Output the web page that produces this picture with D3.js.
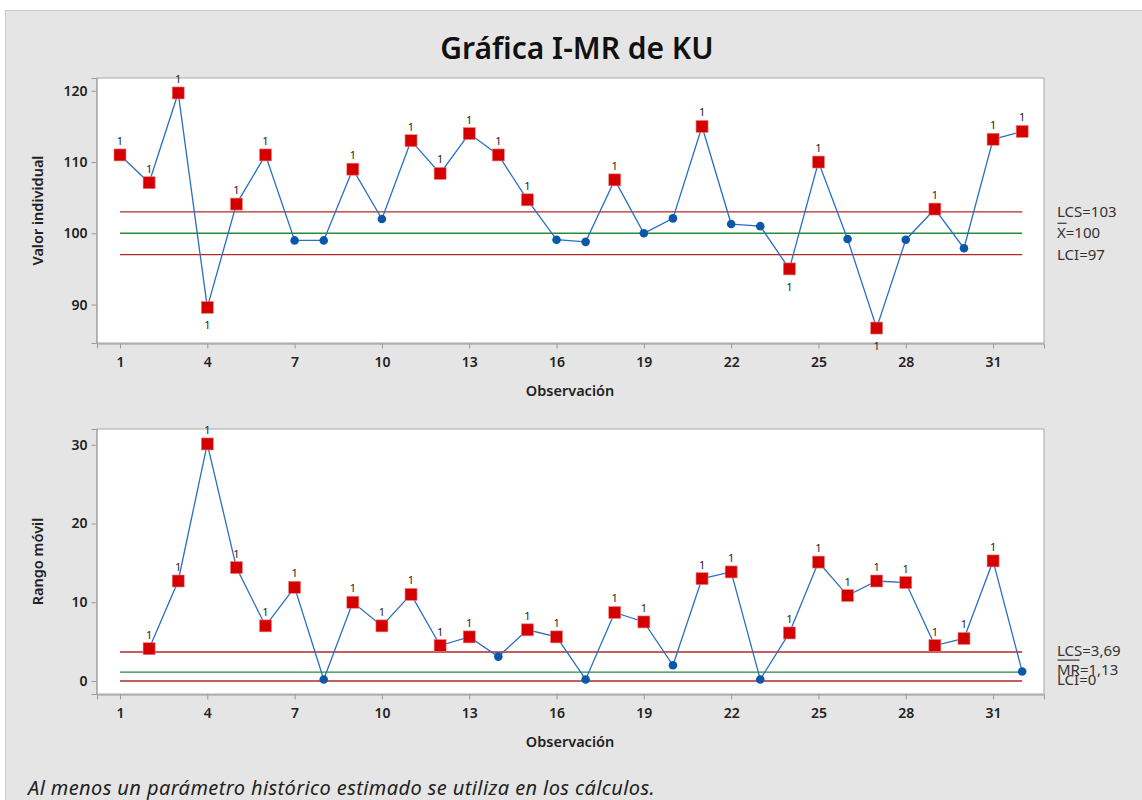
<!DOCTYPE html>
<html>
<head>
<meta charset="utf-8" />
<title>Gráfica I-MR de KU</title>
<script src="https://d3js.org/d3.v7.min.js"></script>
<style>
  body { margin: 0; background: #fff; }
  text { font-family: "Noto Sans", "Open Sans", sans-serif; }
</style>
</head>
<body>
<script>
// observations
var obs = d3.range(1, 33);

// individual values
var individual = [111, 107.1, 119.7, 89.6, 104.1, 111, 99, 99, 109, 102,
                  113, 108.4, 114, 111, 104.7, 99.1, 98.8, 107.5, 100, 102.1,
                  115, 101.3, 101, 95, 110, 99.2, 86.7, 99.1, 103.4, 97.9,
                  113.2, 114.3];

// moving ranges (first observation has none)
var movingRange = [null, 4.1, 12.7, 30.1, 14.4, 7.0, 11.9, 0.2, 10, 7.0,
                   11.0, 4.5, 5.6, 3.1, 6.5, 5.6, 0.2, 8.7, 7.5, 2.0,
                   13.0, 13.85, 0.2, 6.1, 15.1, 10.85, 12.7, 12.5, 4.5, 5.4,
                   15.25, 1.2];

var iLimits = { lcs: 103, center: 100, lci: 97 };
var mrLimits = { lcs: 3.69, center: 1.13, lci: 0 };

var xTicks = [1, 4, 7, 10, 13, 16, 19, 22, 25, 28, 31];
var iTicks = [90, 100, 110, 120];
var mrTicks = [0, 10, 20, 30];

var W = 1142, H = 800;
var svg = d3.select("body").append("svg")
    .attr("width", W)
    .attr("height", H);

// gray panel
svg.append("rect")
    .attr("x", 5.5).attr("y", 10.5)
    .attr("width", W).attr("height", H)
    .attr("fill", "#e5e5e5")
    .attr("stroke", "#c9c9c9");

svg.append("text")
    .attr("x", 577).attr("y", 59)
    .attr("text-anchor", "middle")
    .attr("font-size", 30).attr("font-weight", 600)
    .attr("fill", "#111")
    .text("Gráfica I-MR de KU");

var x = d3.scaleLinear().domain([0.21, 32.75]).range([97, 1044]);

function drawPanel(opts) {
  var y = d3.scaleLinear().domain(opts.domain).range([opts.bottom, opts.top]);
  var g = svg.append("g");

  g.append("rect")
      .attr("x", 97).attr("y", opts.top)
      .attr("width", 1044 - 97).attr("height", opts.bottom - opts.top)
      .attr("fill", "#fff")
      .attr("stroke", "#a8a8a8");

  // axes
  var yAxis = g.append("g")
      .attr("transform", "translate(96.5,0)")
      .call(d3.axisLeft(y).tickValues(opts.ticks).tickSize(5).tickPadding(4));
  var xAxis = g.append("g")
      .attr("transform", "translate(0," + (opts.bottom + 0.5) + ")")
      .call(d3.axisBottom(x).tickValues(xTicks).tickSize(5).tickPadding(9));
  [yAxis, xAxis].forEach(function(a) {
    a.select(".domain").attr("stroke", "#999");
    a.selectAll(".tick line").attr("stroke", "#999");
    a.selectAll(".tick text")
        .attr("font-family", "Noto Sans")
        .attr("font-size", 14)
        .attr("font-weight", 600)
        .attr("fill", "#222");
  });

  g.append("text")
      .attr("x", 570).attr("y", opts.bottom + 53)
      .attr("text-anchor", "middle")
      .attr("font-size", 14.5).attr("font-weight", 600).attr("fill", "#222")
      .text("Observación");

  g.append("text")
      .attr("transform", "translate(43," + ((opts.top + opts.bottom) / 2) + ") rotate(-90)")
      .attr("text-anchor", "middle")
      .attr("font-size", 14.5).attr("font-weight", 600).attr("fill", "#222")
      .text(opts.ylabel);

  // control lines
  var lim = opts.limits;
  [["lcs", "#b22a2a"], ["center", "#2a8a3a"], ["lci", "#b22a2a"]].forEach(function(l) {
    g.append("line")
        .attr("x1", x(1)).attr("x2", x(32))
        .attr("y1", y(lim[l[0]])).attr("y2", y(lim[l[0]]))
        .attr("stroke", l[1]).attr("stroke-width", 1.4);
  });

  // right labels
  opts.labels.forEach(function(lb) {
    g.append("text")
        .attr("x", 1057).attr("y", y(lim[lb.key]) + lb.dy)
        .attr("dominant-baseline", "central")
        .attr("font-size", 15).attr("fill", "#333")
        .text(lb.text);
    if (lb.bar) {
      g.append("line")
          .attr("x1", 1057.5).attr("x2", 1057.5 + lb.bar)
          .attr("y1", y(lim[lb.key]) + lb.dy - 9).attr("y2", y(lim[lb.key]) + lb.dy - 9)
          .attr("stroke", "#333").attr("stroke-width", 1.2);
    }
  });

  var pts = obs.map(function(o, i) { return { o: o, v: opts.values[i] }; })
      .filter(function(d) { return d.v !== null; });

  var line = d3.line()
      .x(function(d) { return x(d.o); })
      .y(function(d) { return y(d.v); });

  g.append("path")
      .datum(pts)
      .attr("d", line)
      .attr("fill", "none")
      .attr("stroke", "#2a6fc0")
      .attr("stroke-width", 1.3);

  var out = function(d) { return d.v > lim.lcs || d.v < lim.lci; };

  g.selectAll("circle.ok")
      .data(pts.filter(function(d) { return !out(d); }))
      .enter().append("circle")
      .attr("cx", function(d) { return x(d.o); })
      .attr("cy", function(d) { return y(d.v); })
      .attr("r", 4.3)
      .attr("fill", "#0b58a8");

  var bad = pts.filter(out);
  g.selectAll("rect.bad")
      .data(bad)
      .enter().append("rect")
      .attr("x", function(d) { return x(d.o) - 6; })
      .attr("y", function(d) { return y(d.v) - 6; })
      .attr("width", 12).attr("height", 12)
      .attr("fill", "#d40000")
      .attr("stroke", "#f08080").attr("stroke-width", 0.6);

  g.selectAll("text.flag")
      .data(bad)
      .enter().append("text")
      .attr("x", function(d) { return x(d.o); })
      .attr("y", function(d) { return d.v < lim.center ? y(d.v) + 22 : y(d.v) - 10; })
      .attr("text-anchor", "middle")
      .attr("font-family", "Liberation Sans")
      .attr("font-size", 11).attr("fill", "#222")
      .text("1");
}

drawPanel({
  top: 78, bottom: 343,
  domain: [84.6, 121.8],
  ticks: iTicks,
  values: individual,
  limits: iLimits,
  ylabel: "Valor individual",
  labels: [
    { key: "lcs", text: "LCS=103", dy: -1 },
    { key: "center", text: "X=100", dy: -1, bar: 9 },
    { key: "lci", text: "LCI=97", dy: -1 }
  ]
});

drawPanel({
  top: 429, bottom: 694,
  domain: [-1.65, 32.0],
  ticks: mrTicks,
  values: movingRange,
  limits: mrLimits,
  ylabel: "Rango móvil",
  labels: [
    { key: "lcs", text: "LCS=3,69", dy: -2 },
    { key: "center", text: "MR=1,13", dy: -3, bar: 22 },
    { key: "lci", text: "LCI=0", dy: -2 }
  ]
});

svg.append("text")
    .attr("x", 28).attr("y", 795)
    .attr("font-size", 20).attr("font-style", "italic")
    .attr("letter-spacing", 0.4)
    .attr("fill", "#222")
    .text("Al menos un parámetro histórico estimado se utiliza en los cálculos.");
</script>
</body>
</html>
